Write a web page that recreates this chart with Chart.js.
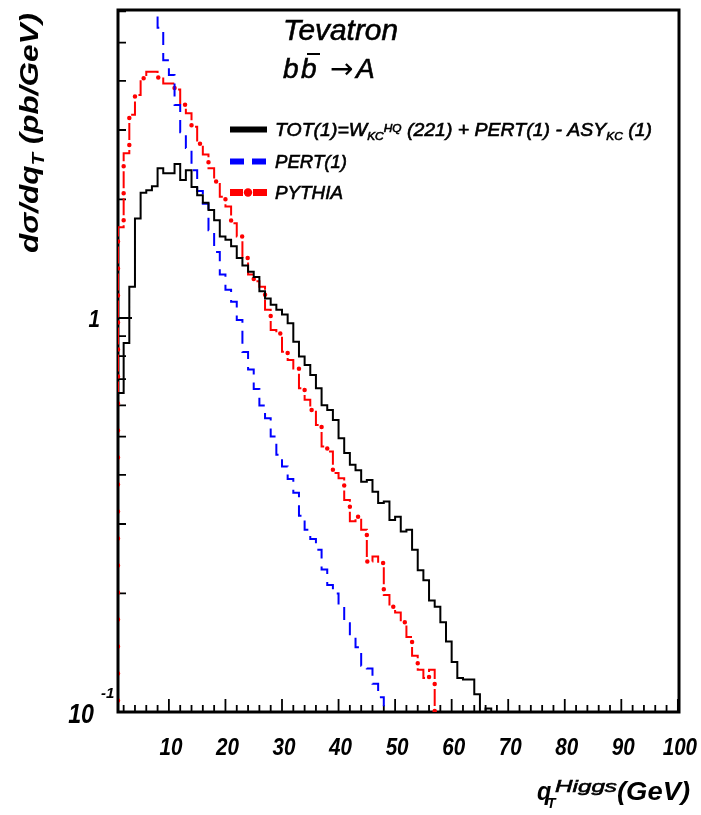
<!DOCTYPE html>
<html lang="en">
<head>
<meta charset="UTF-8">
<title>Tevatron bb -> A</title>
<script src="https://cdn.jsdelivr.net/npm/chart.js"></script>
<style>
  body { margin: 0; background: #fff; }
  canvas { display: block; }
</style>
</head>
<body>
<canvas id="grafico" width="701" height="815"></canvas>

<script>
// histograms in 1 GeV bins, values are the bin contents (pb/GeV)
const firstBin = 1;          // lower edge of first TOT / PYTHIA bin
const pertFirstBin = 7;      // PERT(1) comes in from above the frame
const belowAxis = 0.05;      // used to close a histogram down to the axis

const xTickLabels = [10, 20, 30, 40, 50, 60, 70, 80, 90, 100];

const totVals = [
  0.645, 0.864, 1.20, 1.79, 2.08, 2.11, 2.16, 2.40, 2.33, 2.33,
  2.46, 2.24, 2.37, 2.15, 2.05, 1.96, 1.88, 1.77, 1.61, 1.58,
  1.52, 1.42, 1.36, 1.31, 1.27, 1.17, 1.12, 1.08, 1.05, 1.02,
  0.97, 0.871, 0.798, 0.760, 0.717, 0.663, 0.601, 0.584, 0.551, 0.495,
  0.454, 0.424, 0.411, 0.384, 0.388, 0.362, 0.339, 0.342, 0.307, 0.313,
  0.287, 0.290, 0.258, 0.229, 0.216, 0.192, 0.185, 0.169, 0.151, 0.134,
  0.122, 0.121, 0.121, 0.111, 0.098, 0.102
];

const pertVals = [
  7.2, 5.45, 4.51, 4.14, 3.47, 2.96, 2.70, 2.37, 2.10, 1.95,
  1.67, 1.47, 1.29, 1.18, 1.10, 0.988, 0.82, 0.74, 0.66, 0.60,
  0.557, 0.50, 0.45, 0.42, 0.39, 0.36, 0.315, 0.29, 0.275, 0.258,
  0.23, 0.21, 0.20, 0.185, 0.168, 0.155, 0.146, 0.131, 0.129, 0.118,
  0.109
];

const pythiaVals = [
  1.70, 2.62, 3.28, 3.68, 4.06, 4.22, 4.22, 4.08, 3.94, 3.94,
  3.80, 3.48, 3.31, 3.06, 2.77, 2.60, 2.40, 2.22, 2.03, 1.92,
  1.74, 1.61, 1.42, 1.29, 1.24, 1.20, 1.05, 0.932, 0.914, 0.821,
  0.782, 0.745, 0.663, 0.62, 0.584, 0.535, 0.472, 0.458, 0.404, 0.392,
  0.345, 0.305, 0.313, 0.29, 0.241, 0.248, 0.239, 0.198, 0.185, 0.179,
  0.169, 0.155, 0.139, 0.128, 0.122, 0.128
];

// points at lower bin edges, drawn with stepped lines
function histo(start, vals, fromAxis) {
  const pts = [];
  if (fromAxis) pts.push({ x: start, y: belowAxis });
  vals.forEach((v, i) => pts.push({ x: start + i, y: v }));
  pts.push({ x: start + vals.length, y: belowAxis });
  return pts;
}

const FONT = "'Liberation Sans', Arial, sans-serif";
function font(size, bold, italic) {
  return (italic === false ? '' : 'italic ') + (bold ? 'bold ' : '') + size + 'px ' + FONT;
}

// pieces: [text, size, bold, dy] written one after the other
function runWidth(ctx, pieces) {
  let w = 0;
  for (const p of pieces) { ctx.font = font(p[1], p[2]); w += ctx.measureText(p[0]).width; }
  return w;
}
function textRun(ctx, x, y, sx, pieces) {
  ctx.save();
  ctx.translate(x, y);
  ctx.scale(sx, 1);
  ctx.strokeStyle = ctx.fillStyle;
  ctx.lineWidth = 0.6;
  let cx = 0;
  for (const p of pieces) {
    ctx.font = font(p[1], p[2]);
    ctx.fillText(p[0], cx, p[3] || 0);
    // regular text in the plot is a bit heavier than the plain italic face
    if (!p[2]) ctx.strokeText(p[0], cx, p[3] || 0);
    cx += ctx.measureText(p[0]).width;
  }
  ctx.restore();
}
function fitRun(ctx, x, y, width, pieces) {
  textRun(ctx, x, y, width / runWidth(ctx, pieces), pieces);
}

// frame and inward ticks, under the histograms
const frame = {
  id: 'frame',
  beforeDatasetsDraw(chart) {
    const { ctx, chartArea: a, scales: { x, y } } = chart;
    ctx.save();
    ctx.strokeStyle = '#000';
    ctx.lineWidth = 1.8;
    ctx.beginPath();
    for (let v = 2; v <= 100; v += 2) {
      const px = x.getPixelForValue(v);
      const len = v % 10 === 0 ? 13 : 7;
      ctx.moveTo(px, a.bottom);
      ctx.lineTo(px, a.bottom - len);
    }
    for (const dec of [0.1, 1]) {
      for (let m = 1; m <= 9; m++) {
        const v = dec * m;
        if (v > y.max) break;
        const py = y.getPixelForValue(v);
        ctx.moveTo(a.left, py);
        ctx.lineTo(a.left + (m === 1 ? 14 : 8), py);
      }
    }
    ctx.stroke();
    ctx.lineWidth = 3;
    ctx.strokeRect(a.left, a.top, a.right - a.left, a.bottom - a.top);
    ctx.restore();
  }
};

// tick labels, axis titles, header text and legend
const labels = {
  id: 'labels',
  afterDraw(chart) {
    const { ctx, scales: { x, y } } = chart;
    const ds = chart.data.datasets;
    ctx.save();
    ctx.fillStyle = '#000';
    ctx.textBaseline = 'alphabetic';

    // x tick labels
    ctx.textAlign = 'center';
    for (const v of xTickLabels) {
      ctx.save();
      ctx.translate(x.getPixelForValue(v) + 2, 755);
      ctx.scale(0.86, 1);
      ctx.font = font(24, true);
      ctx.fillText(String(v), 0, 0);
      ctx.restore();
    }

    // y tick labels: 1 and 10^-1
    ctx.textAlign = 'right';
    ctx.save();
    ctx.translate(100, y.getPixelForValue(1) + 9);
    ctx.scale(0.86, 1);
    ctx.font = font(24, true);
    ctx.fillText('1', 0, 0);
    ctx.restore();
    ctx.save();
    ctx.translate(94, y.getPixelForValue(0.1) + 11);
    ctx.scale(0.86, 1);
    ctx.font = font(27, true);
    ctx.fillText('10', 0, 0);
    ctx.restore();
    ctx.textAlign = 'left';
    textRun(ctx, 101, y.getPixelForValue(0.1) - 14, 1, [['-1', 15, true]]);

    // y title
    ctx.save();
    ctx.translate(38, 253);
    ctx.rotate(-Math.PI / 2);
    fitRun(ctx, 0, 0, 240, [['d\u03c3/dq', 26, true], ['T', 17, true, 6], [' (pb/GeV)', 26, true]]);
    ctx.restore();

    // x title
    textRun(ctx, 537, 800, 0.9, [['q', 26, true]]);
    textRun(ctx, 547, 808, 1, [['T', 14, true]]);
    fitRun(ctx, 555, 792, 62, [['Higgs', 17, false]]);
    fitRun(ctx, 617, 800, 73, [['(GeV)', 26, true]]);

    // header
    fitRun(ctx, 283, 40, 115, [['Tevatron', 30, false]]);
    textRun(ctx, 283, 78, 1, [['b', 28, false]]);
    textRun(ctx, 301, 78, 1, [['b', 28, false]]);
    ctx.fillRect(307, 53, 13, 2);
    ctx.font = "28px 'DejaVu Sans', sans-serif";
    ctx.fillText('\u2192', 330, 78);
    textRun(ctx, 356, 78, 1, [['A', 28, false]]);

    // legend
    ctx.lineWidth = 6;
    ctx.strokeStyle = ds[0].borderColor;
    ctx.beginPath(); ctx.moveTo(230, 129.5); ctx.lineTo(267, 129.5); ctx.stroke();
    ctx.strokeStyle = ds[1].borderColor;
    ctx.setLineDash([14, 8]);
    ctx.beginPath(); ctx.moveTo(230, 161.5); ctx.lineTo(266, 161.5); ctx.stroke();
    ctx.setLineDash([]);
    ctx.fillStyle = ds[2].borderColor;
    ctx.fillRect(230, 189, 13, 7);
    ctx.fillRect(253, 189, 14, 7);
    ctx.beginPath(); ctx.arc(248, 192.5, 4.2, 0, Math.PI * 2); ctx.fill();

    ctx.fillStyle = '#000';
    fitRun(ctx, 275, 135.5, 377, [
      ['TOT(1)=W', 18], ['KC', 11, false, 4], ['HQ', 11, false, -4],
      [' (221) + PERT(1) - ASY', 18], ['KC', 11, false, 4], [' (1)', 18]
    ]);
    fitRun(ctx, 275, 167.5, 72, [['PERT(1)', 18]]);
    fitRun(ctx, 275, 199, 68, [['PYTHIA', 18]]);
    ctx.restore();
  }
};

const pythiaPts = histo(firstBin, pythiaVals, true);

const grafico = new Chart(document.getElementById('grafico'), {
  type: 'line',
  data: {
    datasets: [
      {
        label: 'TOT(1)',
        data: histo(firstBin, totVals, true),
        borderColor: '#000000',
        borderWidth: 2,
        stepped: true
      },
      {
        label: 'PERT(1)',
        data: histo(pertFirstBin, pertVals, false),
        borderColor: '#0000ff',
        borderWidth: 2,
        borderDash: [13, 8],
        stepped: true
      },
      {
        label: 'PYTHIA',
        data: pythiaPts,
        borderColor: '#ff0000',
        borderWidth: 2,
        borderDash: [17, 10],
        stepped: true
      },
      {
        // the dots of the dash-dot PYTHIA line
        label: 'PYTHIA dots',
        data: pythiaPts,
        borderColor: '#ff0000',
        borderWidth: 4.5,
        borderDash: [0, 27],
        borderDashOffset: 5,
        borderCapStyle: 'round',
        stepped: true
      }
    ]
  },
  options: {
    responsive: false,
    animation: false,
    devicePixelRatio: 1,
    layout: { padding: { top: 10, right: 22, left: 0, bottom: 0 } },
    elements: { point: { radius: 0 }, line: { tension: 0, borderJoinStyle: 'miter' } },
    plugins: { legend: { display: false }, tooltip: { enabled: false } },
    scales: {
      x: {
        type: 'linear',
        min: 1,
        max: 100.2,
        grid: { display: false },
        border: { display: false },
        ticks: { display: false },
        afterFit: s => { s.height = 103; }
      },
      y: {
        type: 'logarithmic',
        min: 0.1,
        max: 6.05,
        grid: { display: false },
        border: { display: false },
        ticks: { display: false },
        afterFit: s => { s.width = 118; }
      }
    }
  },
  plugins: [frame, labels]
});
</script>
</body>
</html>
